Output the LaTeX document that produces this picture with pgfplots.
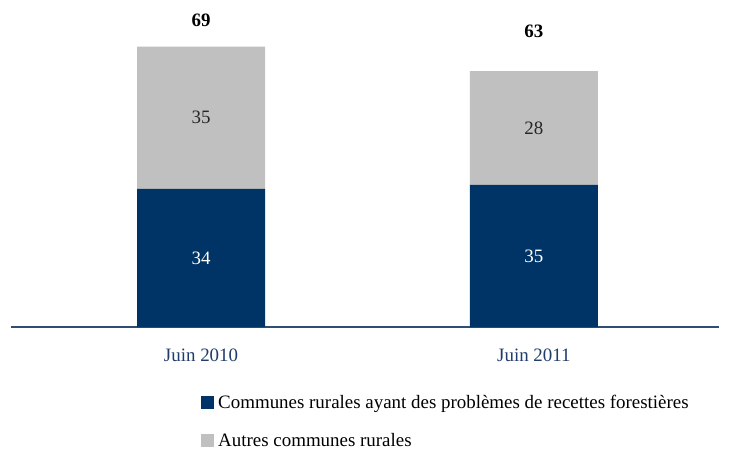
\documentclass[border=0pt]{standalone}
\usepackage{pgfplots}
\pgfplotsset{compat=1.18}
\usepackage{fontspec}
\setmainfont{Liberation Serif}
\definecolor{darkblue}{HTML}{003366}
\definecolor{lgray}{HTML}{C0C0C0}
\definecolor{ticklab}{HTML}{1F3D6B}
\definecolor{axisline}{HTML}{2E4E78}
\newcommand{\fs}{\fontsize{19}{22}\selectfont}
\begin{document}
\begin{tikzpicture}
\begin{axis}[
  scale only axis,
  width=708bp, height=325bp,
  ybar stacked,
  bar width=128bp,
  xmin=-0.571, xmax=1.556,
  ymin=0, ymax=80,
  axis x line*=bottom,
  axis y line=none,
  x axis line style={draw=axisline, line width=1.2bp, -},
  xtick={0,1},
  xticklabels={Juin 2010, Juin 2011},
  major tick length=0pt,
  xticklabel style={font=\fs, text=ticklab, yshift=-18bp},
  clip=false,
  legend cell align=left,
  legend style={at={(axis description cs:0.2684,-0.2015)}, anchor=north west, draw=none, fill=none,
    font=\fs, row sep=20bp, inner sep=0pt, nodes={inner ysep=2bp, inner xsep=4bp}},
  legend image code/.code={\fill[#1] (0bp,-6.5bp) rectangle (13bp,6.5bp);},
]
\addplot[fill=darkblue, draw=none] coordinates {(0,34) (1,35)};
\addplot[fill=lgray, draw=none] coordinates {(0,35) (1,28)};
\legend{Communes rurales ayant des problèmes de recettes forestières, Autres communes rurales}
\coordinate (a1) at (axis cs:0,17);
\coordinate (a2) at (axis cs:1,17.5);
\coordinate (b1) at (axis cs:0,51.5);
\coordinate (b2) at (axis cs:1,49);
\coordinate (t1) at (axis cs:0,75.6);
\coordinate (t2) at (axis cs:1,72.9);
\end{axis}
\node[font=\fs, text=white] at (a1) {34};
\node[font=\fs, text=white] at (a2) {35};
\node[font=\fs, text=black!85] at (b1) {35};
\node[font=\fs, text=black!85] at (b2) {28};
\node[font=\bfseries\fs] at (t1) {69};
\node[font=\bfseries\fs] at (t2) {63};
\path[use as bounding box] (-11bp,-123bp) rectangle (723bp,327bp);
\end{tikzpicture}
\end{document}
